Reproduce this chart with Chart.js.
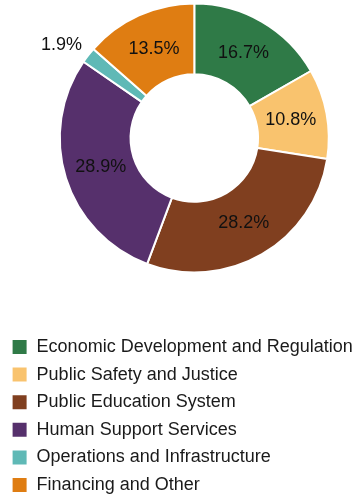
<!DOCTYPE html>
<html>
<head>
<meta charset="utf-8">
<script src="https://cdn.jsdelivr.net/npm/chart.js@4/dist/chart.umd.min.js"></script>
<style>
    html, body { margin: 0; padding: 0; background: #fff; overflow: hidden; }
    .chart-box { position: relative; width: 358px; height: 504px; }
</style>
</head>
<body>
<div class="chart-box"><canvas class="myChart"></canvas></div>
<script>
const categories = [
    "Economic Development and Regulation",
    "Public Safety and Justice",
    "Public Education System",
    "Human Support Services",
    "Operations and Infrastructure",
    "Financing and Other"
];
const shares = [16.7, 10.8, 28.2, 28.9, 1.9, 13.5];
const colors = ["#2f7a47", "#f9c36e", "#803f1f", "#56306c", "#5fb9b6", "#df7d12"];

// square box around the doughnut
const ringBox = { left: 58.8, top: 2.5, size: 271 };

Chart.defaults.font.family = "'Liberation Sans', Arial, sans-serif";
Chart.defaults.color = "#1a1a1a";

// pin the doughnut's area, the legend keeps its own spot at the bottom
const ringArea = {
    id: "ringArea",
    afterLayout(chart) {
        const a = chart.chartArea;
        a.left = ringBox.left;
        a.top = ringBox.top;
        a.right = ringBox.left + ringBox.size;
        a.bottom = ringBox.top + ringBox.size;
        a.width = ringBox.size;
        a.height = ringBox.size;
    }
};

// percentage text on every slice, tiny slices get it outside the ring
const sliceLabels = {
    id: "sliceLabels",
    afterDatasetsDraw(chart) {
        const ctx = chart.ctx;
        const meta = chart.getDatasetMeta(0);
        ctx.save();
        ctx.font = "18px 'Liberation Sans', Arial, sans-serif";
        ctx.fillStyle = "#111";
        meta.data.forEach((arc, i) => {
            const v = shares[i];
            const p = arc.getProps(["x", "y", "startAngle", "endAngle", "innerRadius", "outerRadius"], true);
            const mid = (p.startAngle + p.endAngle) / 2;
            const cos = Math.cos(mid);
            const sin = Math.sin(mid);
            let r = (p.innerRadius + p.outerRadius) / 2 - 1;
            if (v < 5) {
                r = p.outerRadius + 8;
                ctx.textAlign = cos < 0 ? "right" : "left";
                ctx.textBaseline = sin < 0 ? "alphabetic" : "top";
            } else {
                ctx.textAlign = "center";
                ctx.textBaseline = "middle";
            }
            ctx.fillText(v.toFixed(1) + "%", p.x + cos * r, p.y + sin * r);
        });
        ctx.restore();
    }
};

const data = {
    labels: categories,
    datasets: [
        {
            data: shares,
            backgroundColor: colors,
            borderColor: "#ffffff",
            borderWidth: 2,
            hoverOffset: 0
        }
    ]
};

const config = {
    type: "doughnut",
    data: data,
    options: {
        responsive: true,
        maintainAspectRatio: false,
        animation: false,
        cutout: "47.4%",
        layout: {
            padding: { left: 2 }
        },
        plugins: {
            legend: {
                position: "bottom",
                align: "start",
                labels: {
                    boxWidth: 16,
                    boxHeight: 16,
                    padding: 9.6,
                    color: "#1a1a1a",
                    font: { size: 18 }
                }
            },
            tooltip: { enabled: false }
        }
    },
    plugins: [ringArea, sliceLabels]
};

new Chart(document.querySelector(".myChart"), config);
</script>
</body>
</html>
